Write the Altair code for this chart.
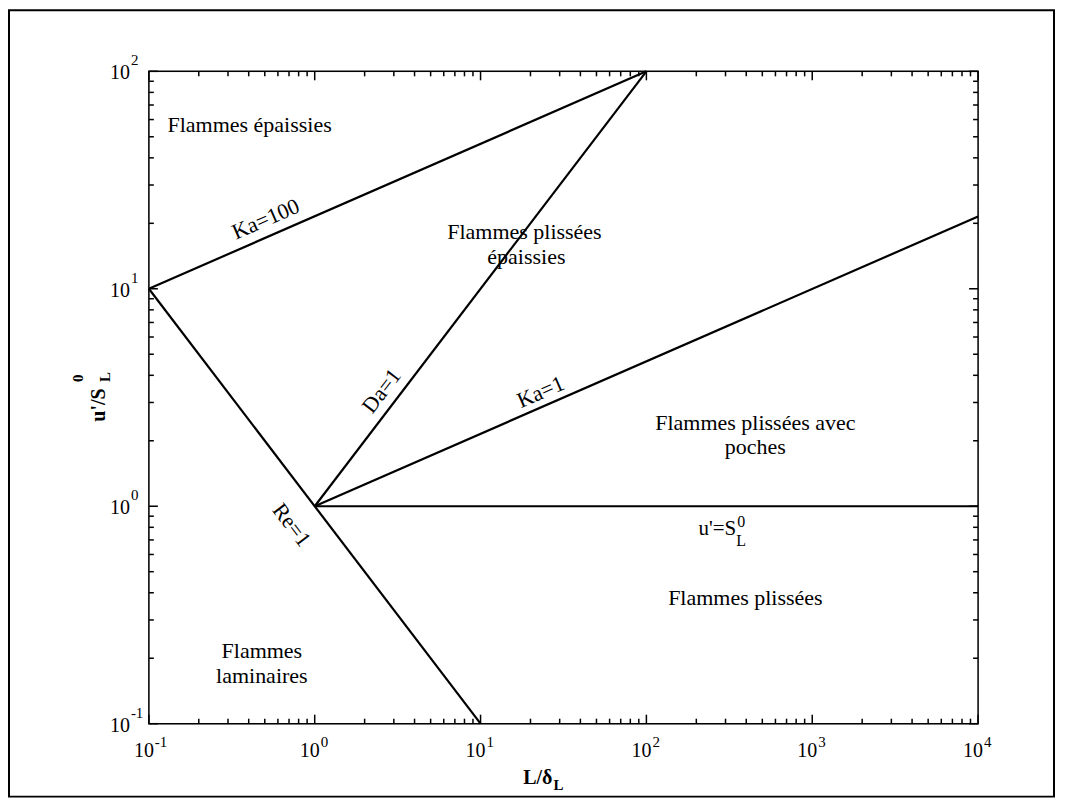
import altair as alt
import pandas as pd

FONT = "Liberation Serif"
W, H = 830, 653

# ---- regime boundary lines (L/delta_L, u'/S_L^0) ----
line_names = ["Ka=100", "Ka=100", "Da=1", "Da=1", "Ka=1", "Ka=1",
              "Re=1", "Re=1", "u'=SL", "u'=SL"]
line_x = [0.1, 100, 1, 100, 1, 10000, 0.1, 10, 1, 10000]
line_y = [10, 100, 1, 100, 1, 21.5, 10, 0.1, 1, 1]

# ---- region labels (horizontal) ----
region_text = ["Flammes épaissies", "Flammes plissées", "épaissies",
               "Flammes plissées avec", "poches", "Flammes plissées",
               "Flammes", "laminaires"]
region_x = [0.405, 18.4, 18.9, 454, 454, 395, 0.48, 0.48]
region_y = [56.5, 18.2, 14.0, 2.42, 1.87, 0.38, 0.217, 0.166]

# ---- boundary labels (rotated) ----
ka_text = ["Ka=100", "Ka=1"]
ka_x = [0.507, 23.0]
ka_y = [20.9, 3.35]
da_text = ["Da=1"]
da_x = [2.53]
da_y = [3.39]
re_text = ["Re=1"]
re_x = [0.726]
re_y = [0.82]

# u'=S_L^0 label anchor
us_x = [348]
us_y = [0.739]

# ---- axes ----
x_decades = [0.1, 1, 10, 100, 1000, 10000]
x_exps = ["-1", "0", "1", "2", "3", "4"]
y_decades = [0.1, 1, 10, 100]
y_exps = ["-1", "0", "1", "2"]
minor_mult = [2, 3, 4, 5, 6, 7, 8, 9]

x_minor = [d * m for d in x_decades[:-1] for m in minor_mult]
y_minor = [d * m for d in y_decades[:-1] for m in minor_mult]

xs = alt.Scale(type="log", domain=[0.1, 10000])
ys = alt.Scale(type="log", domain=[0.1, 100])

lines_df = pd.DataFrame({"name": line_names, "x": line_x, "y": line_y})
region_df = pd.DataFrame({"t": region_text, "x": region_x, "y": region_y})
ka_df = pd.DataFrame({"t": ka_text, "x": ka_x, "y": ka_y})
da_df = pd.DataFrame({"t": da_text, "x": da_x, "y": da_y})
re_df = pd.DataFrame({"t": re_text, "x": re_x, "y": re_y})
us_df = pd.DataFrame({"x": us_x, "y": us_y})
xdec_df = pd.DataFrame({"v": x_decades, "e": x_exps})
ydec_df = pd.DataFrame({"v": y_decades, "e": y_exps})
xmin_df = pd.DataFrame({"v": x_minor})
ymin_df = pd.DataFrame({"v": y_minor})
one = pd.DataFrame({"a": [0]})

X = lambda f="x": alt.X(f"{f}:Q", scale=xs, axis=None)
Y = lambda f="y": alt.Y(f"{f}:Q", scale=ys, axis=None)

layers = []

# plot border
layers.append(alt.Chart(one).mark_rect(fillOpacity=0, stroke="black", strokeWidth=1.5).encode(
    x=alt.value(0), x2=alt.value(W), y=alt.value(0), y2=alt.value(H)))

# boundary lines
layers.append(
    alt.Chart(lines_df).mark_line(color="black", strokeWidth=2.2).encode(
        x=X(), y=Y(), detail="name:N")
)

# region labels
layers.append(
    alt.Chart(region_df).mark_text(font=FONT, fontSize=22, color="black",
                                   align="center", baseline="middle").encode(
        x=X(), y=Y(), text="t:N")
)

# rotated labels
layers.append(
    alt.Chart(ka_df).mark_text(font=FONT, fontSize=22, color="black", angle=336.4,
                               align="center", baseline="middle").encode(
        x=X(), y=Y(), text="t:N")
)
layers.append(
    alt.Chart(da_df).mark_text(font=FONT, fontSize=22, color="black", angle=307.3,
                               align="center", baseline="middle").encode(
        x=X(), y=Y(), text="t:N")
)
layers.append(
    alt.Chart(re_df).mark_text(font=FONT, fontSize=22, color="black", angle=52.7,
                               align="center", baseline="middle").encode(
        x=X(), y=Y(), text="t:N")
)

# u'=S_L^0
layers.append(
    alt.Chart(us_df).mark_text(font=FONT, fontSize=21, color="black", align="right",
                               baseline="alphabetic", text="u'=S").encode(x=X(), y=Y())
)
layers.append(
    alt.Chart(us_df).mark_text(font=FONT, fontSize=16, color="black", align="left",
                               baseline="alphabetic", dx=1, dy=-8, text="0").encode(x=X(), y=Y())
)
layers.append(
    alt.Chart(us_df).mark_text(font=FONT, fontSize=16, color="black", align="left",
                               baseline="alphabetic", dx=0, dy=11, text="L").encode(x=X(), y=Y())
)

# ticks (inward, all four sides)
for df, big in [(xdec_df, 9), (xmin_df, 5)]:
    layers.append(alt.Chart(df).mark_rule(color="black", strokeWidth=1.5).encode(
        x=X("v"), y=alt.value(H), y2=alt.value(H - big)))
    layers.append(alt.Chart(df).mark_rule(color="black", strokeWidth=1.5).encode(
        x=X("v"), y=alt.value(0), y2=alt.value(big)))
for df, big in [(ydec_df, 9), (ymin_df, 5)]:
    layers.append(alt.Chart(df).mark_rule(color="black", strokeWidth=1.5).encode(
        y=Y("v"), x=alt.value(0), x2=alt.value(big)))
    layers.append(alt.Chart(df).mark_rule(color="black", strokeWidth=1.5).encode(
        y=Y("v"), x=alt.value(W), x2=alt.value(W - big)))

# x tick labels
layers.append(alt.Chart(xdec_df).mark_text(font=FONT, fontSize=20, color="black",
                                           align="right", baseline="alphabetic", dx=5,
                                           text="10").encode(
    x=X("v"), y=alt.value(H + 33)))
layers.append(alt.Chart(xdec_df).mark_text(font=FONT, fontSize=15, color="black",
                                           align="left", baseline="alphabetic", dx=6).encode(
    x=X("v"), y=alt.value(H + 23), text="e:N"))

# y tick labels
layers.append(alt.Chart(ydec_df).mark_text(font=FONT, fontSize=20, color="black",
                                           align="right", baseline="alphabetic", dy=8,
                                           text="10").encode(
    y=Y("v"), x=alt.value(-19)))
layers.append(alt.Chart(ydec_df).mark_text(font=FONT, fontSize=15, color="black",
                                           align="left", baseline="alphabetic", dy=-6).encode(
    y=Y("v"), x=alt.value(-18), text="e:N"))

# axis titles
layers.append(alt.Chart(one).mark_text(font=FONT, fontSize=20, fontWeight="bold", color="black",
                                       align="right", baseline="alphabetic", text="L/δ").encode(
    x=alt.value(404), y=alt.value(713)))
layers.append(alt.Chart(one).mark_text(font=FONT, fontSize=15, fontWeight="bold", color="black",
                                       align="left", baseline="alphabetic", text="L").encode(
    x=alt.value(405), y=alt.value(719)))

layers.append(alt.Chart(one).mark_text(font=FONT, fontSize=20, fontWeight="bold", color="black",
                                       align="center", baseline="alphabetic", angle=270,
                                       text="u'/S").encode(
    x=alt.value(-44), y=alt.value(334)))
layers.append(alt.Chart(one).mark_text(font=FONT, fontSize=15, fontWeight="bold", color="black",
                                       align="left", baseline="alphabetic", angle=270,
                                       text="0").encode(
    x=alt.value(-66), y=alt.value(311)))
layers.append(alt.Chart(one).mark_text(font=FONT, fontSize=15, fontWeight="bold", color="black",
                                       align="left", baseline="alphabetic", angle=270,
                                       text="L").encode(
    x=alt.value(-39), y=alt.value(311)))

# outer frame
layers.append(alt.Chart(one).mark_rect(fillOpacity=0, stroke="black", strokeWidth=2).encode(
    x=alt.value(-140), x2=alt.value(906), y=alt.value(-61), y2=alt.value(726)))

chart = alt.layer(*layers).properties(
    width=W, height=H,
    autosize=alt.AutoSizeParams(type="none"),
    padding={"left": 141, "top": 63, "right": 80, "bottom": 74},
).configure_view(strokeWidth=0).configure(background="white")

chart.save("out.html", embed_options={"renderer": "svg", "actions": False})
